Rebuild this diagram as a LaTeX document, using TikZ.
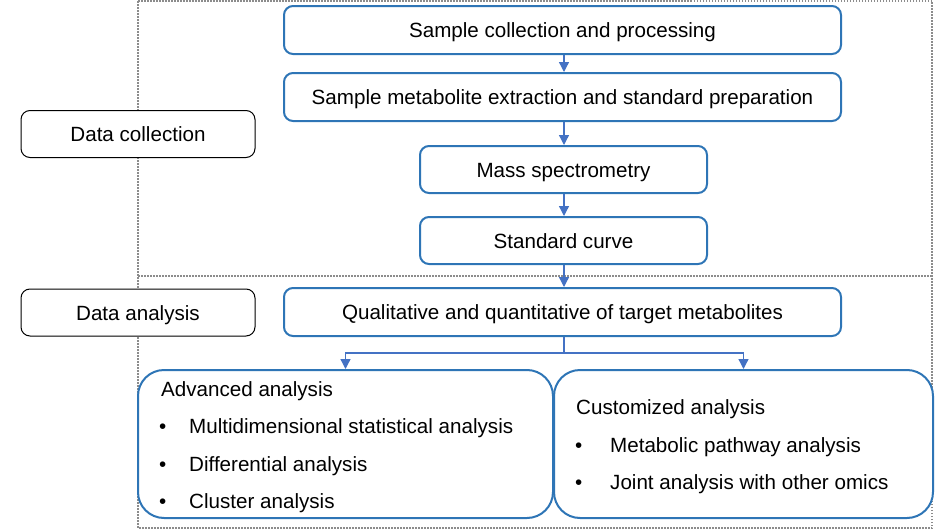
\documentclass[tikz,border=0pt]{standalone}
\usepackage{fontspec}
\setmainfont{Liberation Sans}
\usetikzlibrary{arrows.meta}
\definecolor{boxblue}{HTML}{2E75B6}
\definecolor{arrblue}{HTML}{4472C4}
\definecolor{dotgray}{HTML}{8C8C8C}
\begin{document}
\begin{tikzpicture}[x=1pt,y=-1pt,
  basefont/.style={font=\fontsize{20.6}{24}\selectfont,text height=15pt,text depth=0pt},
  bluebox/.style={basefont,draw=boxblue,fill=white,line width=2pt,rounded corners=9pt,minimum height=48pt,inner sep=0pt},
  sidebox/.style={basefont,draw=black,fill=white,line width=1pt,rounded corners=9pt,minimum width=234pt,minimum height=47pt,inner sep=0pt},
  bigbox/.style={draw=boxblue,fill=white,line width=2pt,rounded corners=26pt,minimum height=148pt,inner sep=0pt},
  txt/.style={basefont,anchor=west,inner sep=0pt},
  flow/.style={draw=arrblue,line width=1.3pt,-{Triangle[width=10pt,length=10pt]}},
  dotline/.style={draw=dotgray,line width=1.5pt,dash pattern=on 1.5pt off 1.5pt}]
\useasboundingbox (0,0) rectangle (935,530);
% dotted frames
\draw[dotline] (138,1) rectangle (932,528);
\draw[dotline] (138,276) -- (932,276);
% side labels
\node[sidebox] (dc) at (138,134) {Data collection};
\node[sidebox] (da) at (138,312.5) {Data analysis};
% flow boxes
\node[bluebox,minimum width=557pt] (b1) at (562.5,30) {Sample collection and processing};
\node[bluebox,minimum width=557pt] (b2) at (562.5,97) {Sample metabolite extraction and standard preparation};
\node[bluebox,minimum width=287pt,minimum height=47pt] (b3) at (563.5,169.5) {Mass spectrometry};
\node[bluebox,minimum width=287pt,minimum height=47pt] (b4) at (563.5,240.5) {Standard curve};
\node[bluebox,minimum width=557pt] (b5) at (562.5,312) {Qualitative and quantitative of target metabolites};
% big boxes
\node[bigbox,minimum width=415pt] (adv) at (345.5,444) {};
\node[bigbox,minimum width=379pt] (cus) at (743.5,444) {};
\node[txt] (a0) at (161,389) {Advanced analysis};
\node[txt] (a1b) at (159,426) {•};
\node[txt] (a1) at (189,426) {Multidimensional statistical analysis};
\node[txt] (a2b) at (159,463.5) {•};
\node[txt] (a2) at (189,463.5) {Differential analysis};
\node[txt] (a3b) at (159,500.5) {•};
\node[txt] (a3) at (189,500.5) {Cluster analysis};
\node[txt] (c0) at (576,406.5) {Customized analysis};
\node[txt] (c1b) at (575,445) {•};
\node[txt] (c1) at (610,445) {Metabolic pathway analysis};
\node[txt] (c2b) at (575,481.5) {•};
\node[txt] (c2) at (610,481.5) {Joint analysis with other omics};
% arrows
\draw[flow] (b1.south -| 564,0) -- (b2.north -| 564,0);
\draw[flow] (b2.south -| 564,0) -- (b3.north -| 564,0);
\draw[flow] (b3.south -| 564,0) -- (b4.north -| 564,0);
\draw[flow] (b4.south -| 564,0) -- (b5.north -| 564,0);
\coordinate (br) at (564,353);
\draw[draw=arrblue,line width=1.3pt] (b5.south -| 564,0) -- (br);
\draw[flow] (br) -| (adv.north);
\draw[flow] (br) -| (cus.north);
\end{tikzpicture}
\end{document}
